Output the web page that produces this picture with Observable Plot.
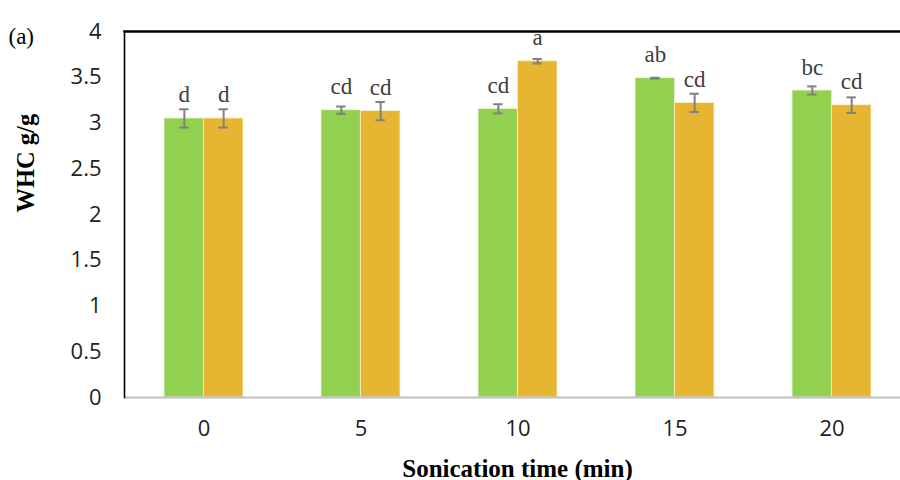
<!DOCTYPE html>
<html><head><meta charset="utf-8">
<script src="https://cdn.jsdelivr.net/npm/d3@7"></script>
<script src="https://cdn.jsdelivr.net/npm/@observablehq/plot@0.6"></script>
<style>
body{margin:0;background:#fff;overflow:hidden;}
</style></head>
<body><div id="chart"></div>
<script>
const times = ["0", "5", "10", "15", "20"];
const greenValues = [3.05, 3.14, 3.155, 3.49, 3.355];
const greenErrors = [0.10, 0.04, 0.05, 0.005, 0.045];
const greenLetters = ["d", "cd", "cd", "ab", "bc"];
const orangeValues = [3.05, 3.13, 3.675, 3.22, 3.195];
const orangeErrors = [0.10, 0.10, 0.025, 0.10, 0.085];
const orangeLetters = ["d", "cd", "a", "cd", "cd"];
const yTicks = [0, 0.5, 1, 1.5, 2, 2.5, 3, 3.5, 4];

const W = 900, H = 480, mL = 124, mR = 0, mT = 31, mB = 83;
const xSpan = 786; // category axis runs slightly past the right edge, as in the reference
const step = xSpan / times.length;
const bw = step * 0.5, half = bw / 2, capW = 9;

const green = times.map((t, i) => ({t, v: greenValues[i], e: greenErrors[i], l: greenLetters[i]}));
const orange = times.map((t, i) => ({t, v: orangeValues[i], e: orangeErrors[i], l: orangeLetters[i]}));

const serif = "'Liberation Serif', 'Times New Roman', serif";
const errColor = "#808080";

function series(data, side, fill) {
  const off = side < 0 ? -half / 2 : half / 2;
  const near = half / 2 - capW / 2, far = bw - half / 2 - capW / 2;
  const capIn = side < 0 ? [near, far] : [far, near];
  return [
    Plot.barY(data, {x: "t", y: "v", fill, stroke: "#fbf3dc", strokeWidth: 0.8,
      insetLeft: side < 0 ? 0 : half, insetRight: side < 0 ? half : 0}),
    Plot.ruleX(data, {x: "t", y1: d => d.v - d.e, y2: d => d.v + d.e, dx: off, stroke: errColor, strokeWidth: 2}),
    Plot.tickY(data, {x: "t", y: d => d.v - d.e, insetLeft: capIn[0], insetRight: capIn[1], stroke: errColor, strokeWidth: 2}),
    Plot.tickY(data, {x: "t", y: d => d.v + d.e, insetLeft: capIn[0], insetRight: capIn[1], stroke: errColor, strokeWidth: 2}),
    Plot.text(data, {x: "t", y: "v", text: "l", dx: off, dy: -16, lineAnchor: "bottom",
      fontFamily: serif, fontSize: 23, fill: "#404040"})
  ];
}

const chart = Plot.plot({
  width: W, height: H,
  marginLeft: mL, marginRight: mR, marginTop: mT, marginBottom: mB,
  style: {fontFamily: "'Open Sans', 'Liberation Sans', sans-serif", background: "#fff", color: "#222", overflow: "hidden"},
  x: {domain: times, range: [mL, mL + xSpan], paddingInner: 0.5, paddingOuter: 0.25, label: null},
  y: {domain: [0, 4], label: null},
  marks: [
    Plot.axisY({ticks: yTicks, tickFormat: d => String(d), tickSize: 0, tickPadding: 23, fontSize: 22, label: null}),
    Plot.axisX({tickSize: 0, tickPadding: 23, fontSize: 22, label: null}),
    ...series(green, -1, "#92D050"),
    ...series(orange, 1, "#E6B532"),
    Plot.ruleY([0], {stroke: "#bfbfbf", strokeWidth: 2}),
    Plot.frame({anchor: "top", stroke: "#000", strokeWidth: 2.5}),
    Plot.frame({anchor: "left", stroke: "#000", strokeWidth: 1.6}),
    Plot.text(["Sonication time (min)"], {frameAnchor: "bottom", dx: 5, dy: 79, lineAnchor: "bottom", fontFamily: serif, fontWeight: "bold", fontSize: 25, fill: "#000"}),
    Plot.text(["WHC g/g"], {frameAnchor: "left", rotate: -90, dx: -98, dy: -2, fontFamily: serif, fontWeight: "bold", fontSize: 24.5, fill: "#000"}),
    Plot.text(["(a)"], {frameAnchor: "top-left", dx: -116, dy: -4, fontFamily: serif, fontSize: 23, fill: "#000"})
  ]
});
document.getElementById("chart").appendChild(chart);
</script>
</body></html>
